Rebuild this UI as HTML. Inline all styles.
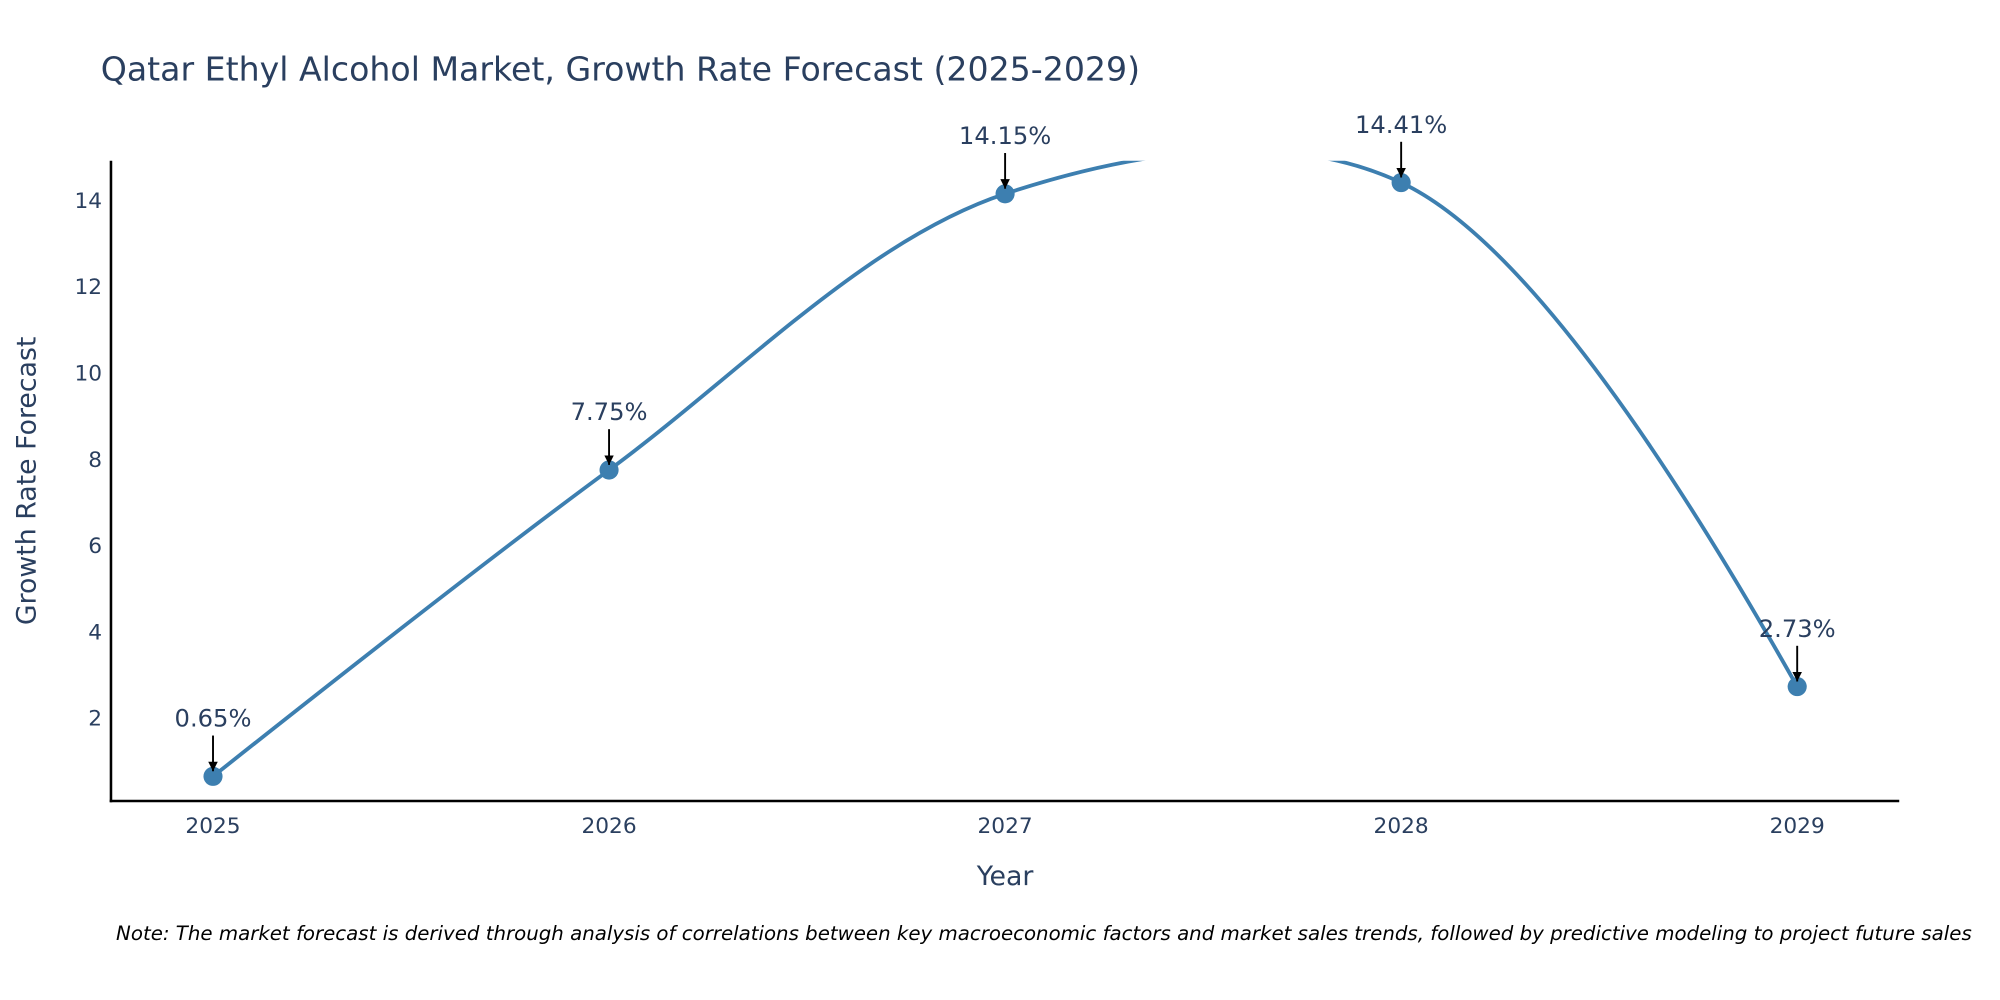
<!DOCTYPE html>
<html><head><meta charset="utf-8"><style>
html,body{margin:0;padding:0;background:#fff;width:2000px;height:1000px;overflow:hidden}
svg{display:block;font-family:"DejaVu Sans","Liberation Sans",sans-serif}
</style></head><body>
<svg id="chart" width="2000" height="1000" viewBox="0 0 1568 784" xmlns="http://www.w3.org/2000/svg">
<defs>
<clipPath id="plotclip"><rect x="87" y="126" width="1402" height="502"/></clipPath>
<marker id="arrow" viewBox="0 0 10 10" refX="10" refY="5" markerWidth="5" markerHeight="5" orient="auto"><path d="M0,0 L10,5 L0,10 z" fill="#000"/></marker>
</defs>
<text x="79" y="63" font-size="26" fill="#2a3f5f">Qatar Ethyl Alcohol Market, Growth Rate Forecast (2025-2029)</text>
<g id="yticks"></g>
<g id="xticks"></g>
<line x1="87" y1="126" x2="87" y2="629" stroke="#000" stroke-width="2"/>
<line x1="86" y1="628" x2="1489" y2="628" stroke="#000" stroke-width="2"/>
<text transform="translate(28,377) rotate(-90)" text-anchor="middle" font-size="21" fill="#2a3f5f">Growth Rate Forecast</text>
<text x="788" y="694" text-anchor="middle" font-size="21" fill="#2a3f5f">Year</text>
<g id="series" clip-path="url(#plotclip)"></g>
<g id="marks"></g>
<text x="91" y="737" font-size="15.5" font-style="italic" fill="#000">Note: The market forecast is derived through analysis of correlations between key macroeconomic factors and market sales trends, followed by predictive modeling to project future sales</text>
</svg>
<script>
const years = [2025, 2026, 2027, 2028, 2029];
const growth = [0.65, 7.75, 14.15, 14.41, 2.73];
const labels = ["0.65%", "7.75%", "14.15%", "14.41%", "2.73%"];
const yTicks = [2, 4, 6, 8, 10, 12, 14];

const NS = "http://www.w3.org/2000/svg";
function xs(v){ return 167 + (v - 2025) * 310.5; }
function ys(v){ return 563 - (v - 2) * 33.83; }
function mk(tag, attrs, parent){ const e = document.createElementNS(NS, tag); for (const k in attrs) e.setAttribute(k, attrs[k]); parent.appendChild(e); return e; }

const yg = document.getElementById('yticks');
yTicks.forEach(t => {
  const e = mk('text', {x: 80, y: ys(t) + 6, 'text-anchor': 'end', 'font-size': 17, fill: '#2a3f5f'}, yg);
  
  
  e.textContent = t;
});
const xg = document.getElementById('xticks');
years.forEach(y => {
  const e = mk('text', {x: xs(y), y: 653, 'text-anchor': 'middle', 'font-size': 17, fill: '#2a3f5f'}, xg);
  
  
  e.textContent = y;
});

const pts = years.map((y, i) => [xs(y), ys(growth[i])]);
function tangent(p, t, n, s){
  const d1x = p[0]-t[0], d1y = p[1]-t[1], d2x = n[0]-t[0], d2y = n[1]-t[1];
  const d1a = Math.pow(d1x*d1x + d1y*d1y, 0.25), d2a = Math.pow(d2x*d2x + d2y*d2y, 0.25);
  const numx = (d2a*d2a*d1x - d1a*d1a*d2x) * s, numy = (d2a*d2a*d1y - d1a*d1a*d2y) * s;
  const den1 = 3*d2a*(d1a+d2a), den2 = 3*d1a*(d1a+d2a);
  return [[t[0] + numx/den1, t[1] + numy/den1], [t[0] - numx/den2, t[1] - numy/den2]];
}
const tg = [];
for (let i = 1; i < pts.length - 1; i++) tg.push(tangent(pts[i-1], pts[i], pts[i+1], 1));
let d = 'M' + pts[0] + 'Q' + tg[0][0] + ' ' + pts[1];
for (let i = 2; i < pts.length - 1; i++) d += 'C' + tg[i-2][1] + ' ' + tg[i-1][0] + ' ' + pts[i];
d += 'Q' + tg[pts.length-3][1] + ' ' + pts[pts.length-1];
const line = mk('path', {d: d, fill: 'none', stroke: '#3d7fb0', 'stroke-width': 3}, document.getElementById('series'));



const mg = document.getElementById('marks');
pts.forEach((p, i) => {
  const c = mk('circle', {cx: p[0], cy: p[1], r: 7.5, fill: '#3d7fb0'}, mg);
  
  
  const a = mk('line', {x1: p[0], y1: p[1] - 32, x2: p[0], y2: p[1] - 4, stroke: '#000', 'stroke-width': 1.5, 'marker-end': 'url(#arrow)'}, mg);
  
  
  const t = mk('text', {x: p[0], y: p[1] - 39, 'text-anchor': 'middle', 'font-size': 19, fill: '#2a3f5f'}, mg);
  
  
  t.textContent = labels[i];
});
</script>
</body></html>
